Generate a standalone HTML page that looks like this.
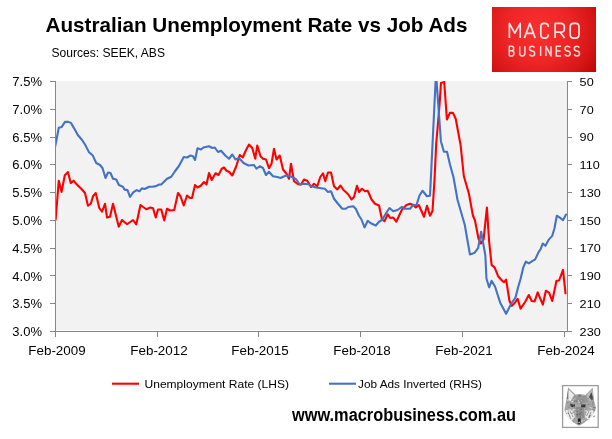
<!DOCTYPE html>
<html><head><meta charset="utf-8"><style>
html,body{margin:0;padding:0;background:#fff;}
body{width:612px;height:439px;overflow:hidden;position:relative;}
svg{position:absolute;left:0;top:0;will-change:transform;}
text{font-family:"Liberation Sans",sans-serif;}
</style></head><body>
<svg width="612" height="439" viewBox="0 0 612 439">
<defs><radialGradient id="lg" gradientUnits="userSpaceOnUse" cx="538" cy="30" r="68">
<stop offset="0" stop-color="#f7302f"/><stop offset="0.45" stop-color="#f02626"/><stop offset="0.8" stop-color="#d81616"/><stop offset="1" stop-color="#c20808"/></radialGradient></defs>
<rect x="492" y="7" width="104" height="65" fill="url(#lg)"/>
<path d="M509.4 38.1 V23.4 L514.8 33.2 L520.2 23.4 V38.1 M524.4 38.1 L529.8 23.4 L535.2 38.1 M526.2 33.4 H533.4 M548.3 27 Q548.3 23.4 545 23.4 H544.1 Q540.8 23.4 540.8 27 V34.5 Q540.8 38.1 544.1 38.1 H545 Q548.3 38.1 548.3 34.5 M555.1 38.1 V23.4 H560.6 Q564.4 23.4 564.4 27.3 V28.4 Q564.4 32.2 560.6 32.2 H555.1 M560.2 32.2 L564.6 38.1 M573.6 23.4 H575.6 Q579 23.4 579 27 V34.5 Q579 38.1 575.6 38.1 H573.6 Q570.2 38.1 570.2 34.5 V27 Q570.2 23.4 573.6 23.4 Z" fill="none" stroke="#fae6e6" stroke-width="1.7" stroke-linejoin="round"/>
<path d="M509.3 55.9 V46.2 H511.9 Q513.7 46.2 513.7 48.5 Q513.7 50.8 511.6 50.8 H509.3 M511.6 50.8 Q513.9 50.8 513.9 53.3 Q513.9 55.9 511.9 55.9 H509.3 M519.7 46.2 V53.2 Q519.7 55.9 522.3 55.9 Q524.9 55.9 524.9 53.2 V46.2 M534.5 47.6 Q533.8 46.2 532.1 46.2 Q529.5 46.2 529.5 48.7 Q529.5 50.7 532.1 51 Q534.7 51.3 534.7 53.4 Q534.7 55.9 532.1 55.9 Q530.1 55.9 529.4 54.4 M540.65 46.2 V55.9 M545.9 55.9 V46.2 L551 55.9 V46.2 M561.1 46.2 H556.3 V55.9 H561.1 M556.3 51 H560.6 M570.0 47.6 Q569.3 46.2 567.6 46.2 Q565.0 46.2 565.0 48.7 Q565.0 50.7 567.6 51 Q570.2 51.3 570.2 53.4 Q570.2 55.9 567.6 55.9 Q565.6 55.9 564.9 54.4 M579.3 47.6 Q578.5999999999999 46.2 576.9 46.2 Q574.3 46.2 574.3 48.7 Q574.3 50.7 576.9 51 Q579.5 51.3 579.5 53.4 Q579.5 55.9 576.9 55.9 Q574.9 55.9 574.1999999999999 54.4 " fill="none" stroke="#f6dada" stroke-width="1.5" stroke-linejoin="round"/>
<rect x="56" y="81" width="511" height="249" fill="#f2f2f2"/>
<path d="M55.5 81 V332.0 M567.5 81 V331.5 M55.0 331.5 H568.0" stroke="#878787" stroke-width="1" fill="none"/>
<path d="M50 81.5 H55.5 M567.5 81.5 H572 M50 109.5 H55.5 M567.5 109.5 H572 M50 137.5 H55.5 M567.5 137.5 H572 M50 164.5 H55.5 M567.5 164.5 H572 M50 192.5 H55.5 M567.5 192.5 H572 M50 220.5 H55.5 M567.5 220.5 H572 M50 248.5 H55.5 M567.5 248.5 H572 M50 275.5 H55.5 M567.5 275.5 H572 M50 303.5 H55.5 M567.5 303.5 H572 M50 331.5 H55.5 M567.5 331.5 H572 M55.5 331.5 V337 M157.5 331.5 V337 M258.5 331.5 V337 M360.5 331.5 V337 M462.5 331.5 V337 M564.5 331.5 V337" stroke="#878787" stroke-width="1" fill="none"/>
<clipPath id="pc"><rect x="56" y="81" width="511" height="250"/></clipPath>
<g clip-path="url(#pc)" fill="none" stroke-linejoin="round" stroke-linecap="round">
<polyline points="55.6,219.8 58.8,180.7 61.6,191.9 64.8,175.2 68,172 70.7,183.1 73.6,180.7 76.3,183.9 81.25,188.75 85,193 88,205.75 90.75,203.75 93,196.25 95.75,193 99.25,208 102,211.75 105,203.75 107,217.5 110,216.75 113,203.75 118.75,226.75 122,220 127,224.25 133,220 136.25,224.5 140.5,205 146.25,209.25 150.5,207.5 153,208.25 155.75,217.5 158,209.5 161.25,209.5 164.25,220.5 167,208.75 170,210.5 174.25,210 178,193 180.5,196.25 183.75,205.5 187,195.5 190,198 192,198 195,185 197.5,187.5 200.75,185.75 204,182 206.5,184.5 209,173 211.75,180 215.5,173.25 218.5,175 221.75,168.75 224,167.5 226.5,170.75 229.25,172 232.25,175.5 236,167 239.75,155 242.75,157.5 246,150 249,144.5 252.25,148 255.25,158.75 257.25,145.5 260.5,156.25 263,158.75 266,159.5 269,168.25 271.5,163.75 274,148.75 276.5,159.5 279.75,155.5 283,169.5 286.5,173.75 289,178.75 291,163.75 294,181.25 298,184.25 301,184.5 304,179.5 307.25,180.75 311,187 314,183.75 317.25,186.25 320.25,177 323,173.25 325.25,181.25 328,172.5 331,172.5 334,186.25 337.25,189.5 340.5,185.5 343.5,190 345.75,192 348.25,194.5 351.5,199.5 354,197 357,185.75 359,192 362,188.75 365,191.25 367.75,190.75 371.5,199.5 375,203.75 379,205.5 382,219.5 384.5,221.25 387.75,214.25 390.25,218 393.25,217.5 396.25,221.75 402,209.5 406.5,205 410,203.75 413.25,205 415.75,207.5 418.75,205 424,216.75 427,205.75 430,215.75 432.5,211 434.5,180 436.2,144 439.6,104 441,83 444.2,82 446.9,119.5 449.9,112.9 453,112.9 455.7,118.7 460.6,145 463.8,176 469,194 472.9,215.5 475,220.5 478.5,238.7 480.9,243.5 483.6,239.4 486.9,207.6 489.1,241 491.6,264.9 494.7,267.6 498.1,276.2 501.9,280.5 503.9,282.2 506.1,279.6 509.5,301 511.8,305.8 514.7,303 517.6,298.9 520.6,308.7 525.4,301.5 528.8,295 531.7,301 534.6,301.5 537.7,292.4 542.8,304.7 545.9,290.7 549.2,292.8 552.2,301 556.5,280.8 559.1,280.5 563,269.9 565.5,293.3" stroke="#ff0000" stroke-width="2.1"/>
<polyline points="55.25,146.3 58.75,127.8 61.75,126.9 65,121.9 68.4,121.9 70.9,122.9 74,128.1 77.8,135 82.1,140 85.3,145 88.8,151.9 92.8,155.6 96.25,163 100,165 102.5,168 105.5,178 108,172.5 110.5,173 113,178.75 116.25,179.5 118.9,185 122.9,186.7 124.6,189.6 127.5,190.1 130,197 133.2,192.4 136.6,190.1 139.5,191.3 141.8,188.4 144.6,189 149.2,186.7 152.6,186.7 156,186.1 159.25,184.5 161.25,184.5 167,178.75 171.25,176.75 175,171.25 178.75,166.25 183.75,157 187,157.5 190.5,155.5 193,156.25 195,160 197.5,148.25 201,149.5 203.5,147.5 209,146.25 212.25,148 214.75,147.5 218,152 221,150.75 225.5,155.75 229,158.75 232.25,154.5 235.5,159.5 239,158 243.5,163 248.5,165.5 254,165 256.5,168.75 259.75,166.25 263,168 266,175 269,171.75 273,176.25 277.25,177 280.5,178 286,175.5 290.5,176.25 296,179.25 299.75,184.5 303.5,183.75 308.5,184.25 311.5,186.25 316,187.5 321,188.25 324.75,188.75 328,192 331,191.25 334,198.75 338,203.75 342.25,208.75 345.75,208.75 348.25,207 353.25,206.25 355.75,208.75 359,215.75 361.5,219.5 364.5,227.5 367.75,220.75 370.75,223.25 375.75,225.5 379,221.75 382,220 386.5,212.5 389.5,208 393.25,211.25 397.5,210 402,206.75 404.5,208.75 410,208.75 413.25,205 416.5,205 419.5,195.5 422.5,190.75 427,196.25 430,195.7 436,73 440.9,141.2 443.9,151.8 447,151.8 450.1,165 453.5,177.3 457.5,199.8 464.8,225 469.9,254.4 473,253.4 474.7,252.7 478.1,248.2 481.1,231.8 485.3,255 486.5,278.8 489.1,287.3 491.6,280.8 495,286.5 500.2,302.7 506.1,313.8 511.3,303.5 515.5,297.6 518.1,287.3 520.6,278.8 523.2,267.7 525.8,261.7 528.8,263.4 532.6,260.9 535.2,259.4 538.6,252.1 540.6,249.2 542.8,243.5 545.4,245.8 548.8,239.6 552.2,235.9 554.5,228.2 556.8,215.7 559.9,217.6 563,220.2 566,214.5" stroke="#4472c4" stroke-width="2.1"/>
</g>
<text x="42" y="86.1" text-anchor="end" font-size="13" fill="#000">7.5%</text>
<text x="42" y="113.9" text-anchor="end" font-size="13" fill="#000">7.0%</text>
<text x="42" y="141.7" text-anchor="end" font-size="13" fill="#000">6.5%</text>
<text x="42" y="169.4" text-anchor="end" font-size="13" fill="#000">6.0%</text>
<text x="42" y="197.2" text-anchor="end" font-size="13" fill="#000">5.5%</text>
<text x="42" y="225.0" text-anchor="end" font-size="13" fill="#000">5.0%</text>
<text x="42" y="252.8" text-anchor="end" font-size="13" fill="#000">4.5%</text>
<text x="42" y="280.5" text-anchor="end" font-size="13" fill="#000">4.0%</text>
<text x="42" y="308.3" text-anchor="end" font-size="13" fill="#000">3.5%</text>
<text x="42" y="336.1" text-anchor="end" font-size="13" fill="#000">3.0%</text>
<text transform="translate(579.6 85.7) scale(1.1 1)" font-size="11.5" fill="#000">50</text>
<text transform="translate(579.6 113.5) scale(1.1 1)" font-size="11.5" fill="#000">70</text>
<text transform="translate(579.6 141.3) scale(1.1 1)" font-size="11.5" fill="#000">90</text>
<text transform="translate(579.6 169.0) scale(1.1 1)" font-size="11.5" fill="#000">110</text>
<text transform="translate(579.6 196.8) scale(1.1 1)" font-size="11.5" fill="#000">130</text>
<text transform="translate(579.6 224.6) scale(1.1 1)" font-size="11.5" fill="#000">150</text>
<text transform="translate(579.6 252.4) scale(1.1 1)" font-size="11.5" fill="#000">170</text>
<text transform="translate(579.6 280.1) scale(1.1 1)" font-size="11.5" fill="#000">190</text>
<text transform="translate(579.6 307.9) scale(1.1 1)" font-size="11.5" fill="#000">210</text>
<text transform="translate(579.6 335.7) scale(1.1 1)" font-size="11.5" fill="#000">230</text>
<text x="57.0" y="354.9" text-anchor="middle" font-size="13.4" fill="#000">Feb-2009</text>
<text x="159.0" y="354.9" text-anchor="middle" font-size="13.4" fill="#000">Feb-2012</text>
<text x="260.0" y="354.9" text-anchor="middle" font-size="13.4" fill="#000">Feb-2015</text>
<text x="362.0" y="354.9" text-anchor="middle" font-size="13.4" fill="#000">Feb-2018</text>
<text x="464.0" y="354.9" text-anchor="middle" font-size="13.4" fill="#000">Feb-2021</text>
<text x="566.0" y="354.9" text-anchor="middle" font-size="13.4" fill="#000">Feb-2024</text>
<path d="M112 383.7 H139" stroke="#ff0000" stroke-width="2.1"/>
<path d="M329 383.7 H356" stroke="#4472c4" stroke-width="2.1"/>
<text x="144.5" y="387.6" font-size="11" fill="#000" textLength="144.5" lengthAdjust="spacingAndGlyphs">Unemployment Rate (LHS)</text>
<text x="358" y="387.6" font-size="11" fill="#000" textLength="124" lengthAdjust="spacingAndGlyphs">Job Ads Inverted (RHS)</text>
<text x="45.5" y="31.8" font-size="20.5" font-weight="bold" fill="#000" textLength="422" lengthAdjust="spacingAndGlyphs">Australian Unemployment Rate vs Job Ads</text>
<text x="51.5" y="56.8" font-size="12" fill="#000" textLength="113.5" lengthAdjust="spacingAndGlyphs">Sources: SEEK, ABS</text>
<text x="292" y="420.8" font-size="18" font-weight="bold" fill="#000" textLength="224" lengthAdjust="spacingAndGlyphs">www.macrobusiness.com.au</text>
<rect x="562.6" y="385.6" width="35.6" height="41.8" fill="#fff" stroke="#9c9c9c" stroke-width="1.3"/>
<g>
<path d="M566.3 399.4 L568.2 387.4 L575.4 394.6 L580 394 L585.5 395.1 L592.7 387.4 L594.1 400.4 L596 408 L595 411 L590.7 417.6 L584 423 L578.8 425.7 L573.5 422.4 L567.7 416.6 L564.4 410 Z" fill="#a6a6a6"/>
<path d="M568.6 389.5 L574 395 L570.5 401 L567.5 400 Z" fill="#ececec"/>
<path d="M568.2 388 L567 399 L568.4 399.5 Z" fill="#6e6e6e"/>
<path d="M592.3 389.5 L586.5 395.5 L590 401 L593.5 400 Z" fill="#bdbdbd"/>
<path d="M591.5 392 L589 397 L592 401 L593.3 399 Z" fill="#4a4a4a"/>
<path d="M574 396 L586 396 L588 402 L580 404 L572 402 Z" fill="#959595"/>
<path d="M570 403.8 L574.8 404.2 L575 407.5 L571 406.8 Z M581 404.5 L585.8 404.5 L585 407.6 L581.2 407.6 Z" fill="#333"/>
<path d="M565.5 410 L572.5 410.5 L575 417 L571 421 L567 416 Z M593.5 410 L587 411 L585 417 L589.5 420.5 L593 415 Z" fill="#ebebeb"/>
<path d="M568 412 L571 419 M570 411 L573 417 M591 412 L588.5 418 M589 411 L586.5 416" stroke="#6a6a6a" stroke-width="0.7"/>
<path d="M576.5 407 L583.5 407 L584 417 L580 419 L576 417 Z" fill="#8a8a8a"/>
<path d="M577.8 418.6 L580.8 418.6 L580.5 424.3 L578.2 424.3 Z" fill="#1c1c1c"/>
<rect x="574.7" y="398.5" width="0.7" height="0.5" fill="#5a5a5a"/><rect x="581.1" y="405.0" width="1.3" height="1.1" fill="#5a5a5a"/><rect x="571.4" y="396.6" width="0.7" height="0.5" fill="#f0f0f0"/><rect x="567.7" y="406.7" width="0.7" height="0.6" fill="#888"/><rect x="571.7" y="412.8" width="1.1" height="0.8" fill="#5a5a5a"/><rect x="576.9" y="423.3" width="1.0" height="0.8" fill="#5a5a5a"/><rect x="569.0" y="406.6" width="0.7" height="0.6" fill="#888"/><rect x="574.3" y="418.5" width="0.7" height="0.5" fill="#707070"/><rect x="582.1" y="399.6" width="1.0" height="0.8" fill="#5a5a5a"/><rect x="571.2" y="414.4" width="1.2" height="1.0" fill="#f0f0f0"/><rect x="579.0" y="421.7" width="0.8" height="0.7" fill="#d8d8d8"/><rect x="588.8" y="415.0" width="0.7" height="0.5" fill="#707070"/><rect x="574.0" y="408.9" width="1.2" height="0.9" fill="#d8d8d8"/><rect x="568.5" y="406.5" width="0.7" height="0.6" fill="#d8d8d8"/><rect x="579.7" y="395.2" width="1.2" height="1.0" fill="#5a5a5a"/><rect x="582.2" y="420.3" width="0.9" height="0.7" fill="#d8d8d8"/><rect x="575.5" y="408.9" width="0.7" height="0.5" fill="#f0f0f0"/><rect x="567.8" y="402.1" width="0.6" height="0.5" fill="#5a5a5a"/><rect x="586.0" y="413.4" width="0.8" height="0.7" fill="#f0f0f0"/><rect x="576.6" y="414.1" width="1.4" height="1.1" fill="#5a5a5a"/><rect x="575.7" y="412.3" width="0.6" height="0.5" fill="#f0f0f0"/><rect x="588.0" y="397.9" width="0.9" height="0.7" fill="#707070"/><rect x="592.5" y="408.9" width="1.0" height="0.8" fill="#707070"/><rect x="581.5" y="420.5" width="1.3" height="1.0" fill="#f0f0f0"/><rect x="573.4" y="406.5" width="1.1" height="0.9" fill="#d8d8d8"/><rect x="576.4" y="400.9" width="0.7" height="0.6" fill="#5a5a5a"/><rect x="572.0" y="401.0" width="1.3" height="1.0" fill="#f0f0f0"/><rect x="570.5" y="402.5" width="0.9" height="0.7" fill="#707070"/><rect x="576.1" y="411.0" width="1.2" height="0.9" fill="#707070"/><rect x="580.5" y="412.5" width="1.0" height="0.8" fill="#5a5a5a"/><rect x="585.4" y="410.8" width="0.9" height="0.7" fill="#f0f0f0"/><rect x="568.1" y="413.0" width="0.8" height="0.6" fill="#5a5a5a"/><rect x="594.5" y="407.2" width="0.9" height="0.7" fill="#5a5a5a"/><rect x="569.5" y="397.0" width="1.1" height="0.9" fill="#d8d8d8"/><rect x="567.1" y="400.2" width="0.7" height="0.6" fill="#f0f0f0"/><rect x="572.6" y="404.4" width="1.0" height="0.8" fill="#d8d8d8"/><rect x="568.5" y="408.6" width="1.0" height="0.8" fill="#f0f0f0"/><rect x="574.4" y="398.3" width="1.2" height="1.0" fill="#d8d8d8"/><rect x="579.4" y="414.8" width="0.6" height="0.5" fill="#888"/><rect x="593.5" y="409.8" width="1.2" height="0.9" fill="#707070"/><rect x="592.4" y="416.7" width="1.4" height="1.1" fill="#d8d8d8"/><rect x="590.9" y="414.9" width="1.0" height="0.8" fill="#d8d8d8"/><rect x="592.2" y="404.7" width="1.0" height="0.8" fill="#707070"/><rect x="588.4" y="403.9" width="1.1" height="0.9" fill="#707070"/><rect x="588.7" y="416.7" width="1.2" height="1.0" fill="#707070"/><rect x="589.5" y="416.2" width="0.8" height="0.6" fill="#707070"/><rect x="579.8" y="415.9" width="1.2" height="1.0" fill="#5a5a5a"/><rect x="579.2" y="399.8" width="1.4" height="1.1" fill="#888"/><rect x="578.4" y="422.1" width="1.4" height="1.1" fill="#d8d8d8"/><rect x="575.9" y="400.6" width="1.0" height="0.8" fill="#707070"/><rect x="575.1" y="408.5" width="1.3" height="1.0" fill="#888"/><rect x="579.4" y="413.6" width="1.3" height="1.0" fill="#5a5a5a"/><rect x="568.6" y="405.7" width="1.0" height="0.8" fill="#707070"/><rect x="570.4" y="417.7" width="0.7" height="0.5" fill="#d8d8d8"/><rect x="593.4" y="415.7" width="0.9" height="0.7" fill="#f0f0f0"/><rect x="593.4" y="415.7" width="1.4" height="1.1" fill="#707070"/><rect x="565.8" y="411.7" width="1.2" height="1.0" fill="#f0f0f0"/><rect x="569.4" y="418.8" width="1.1" height="0.9" fill="#f0f0f0"/><rect x="575.5" y="410.5" width="0.6" height="0.5" fill="#707070"/><rect x="589.0" y="415.8" width="1.0" height="0.8" fill="#5a5a5a"/><rect x="593.0" y="407.0" width="1.3" height="1.0" fill="#707070"/><rect x="571.3" y="401.6" width="1.0" height="0.8" fill="#d8d8d8"/><rect x="587.9" y="403.8" width="0.9" height="0.7" fill="#888"/><rect x="575.6" y="407.7" width="1.3" height="1.0" fill="#888"/><rect x="580.5" y="418.8" width="0.7" height="0.6" fill="#888"/><rect x="569.6" y="409.3" width="1.2" height="1.0" fill="#f0f0f0"/><rect x="583.3" y="417.3" width="0.7" height="0.6" fill="#707070"/><rect x="579.2" y="415.8" width="0.6" height="0.5" fill="#888"/><rect x="585.5" y="409.9" width="1.2" height="1.0" fill="#f0f0f0"/><rect x="568.2" y="410.8" width="0.8" height="0.6" fill="#707070"/><rect x="578.6" y="394.8" width="1.0" height="0.8" fill="#5a5a5a"/><rect x="583.4" y="409.2" width="0.8" height="0.6" fill="#888"/><rect x="573.3" y="409.2" width="1.0" height="0.8" fill="#f0f0f0"/><rect x="572.4" y="409.7" width="1.3" height="1.1" fill="#d8d8d8"/><rect x="591.8" y="400.1" width="0.7" height="0.6" fill="#f0f0f0"/><rect x="568.6" y="407.3" width="1.1" height="0.9" fill="#5a5a5a"/><rect x="577.9" y="400.4" width="1.2" height="1.0" fill="#d8d8d8"/><rect x="591.9" y="398.6" width="0.7" height="0.6" fill="#d8d8d8"/><rect x="576.9" y="408.6" width="0.7" height="0.6" fill="#707070"/><rect x="577.9" y="409.5" width="0.9" height="0.7" fill="#d8d8d8"/><rect x="575.7" y="396.8" width="0.6" height="0.5" fill="#d8d8d8"/><rect x="581.6" y="407.2" width="0.9" height="0.7" fill="#5a5a5a"/><rect x="580.5" y="402.9" width="0.7" height="0.6" fill="#5a5a5a"/><rect x="592.6" y="400.9" width="0.7" height="0.5" fill="#5a5a5a"/><rect x="573.2" y="421.2" width="0.8" height="0.7" fill="#707070"/><rect x="568.9" y="406.7" width="0.9" height="0.7" fill="#d8d8d8"/><rect x="581.1" y="409.4" width="1.2" height="0.9" fill="#f0f0f0"/><rect x="585.6" y="406.8" width="0.8" height="0.7" fill="#5a5a5a"/><rect x="572.8" y="412.2" width="0.7" height="0.5" fill="#707070"/><rect x="590.9" y="407.6" width="1.4" height="1.1" fill="#d8d8d8"/><rect x="577.5" y="421.5" width="0.7" height="0.6" fill="#888"/><rect x="580.8" y="401.2" width="1.4" height="1.1" fill="#5a5a5a"/><rect x="572.9" y="399.4" width="1.1" height="0.9" fill="#d8d8d8"/><rect x="580.9" y="400.2" width="1.0" height="0.8" fill="#f0f0f0"/><rect x="570.3" y="404.4" width="1.4" height="1.1" fill="#5a5a5a"/><rect x="580.2" y="423.3" width="1.0" height="0.8" fill="#888"/><rect x="589.6" y="407.0" width="1.0" height="0.8" fill="#f0f0f0"/><rect x="574.2" y="400.5" width="0.9" height="0.7" fill="#707070"/><rect x="590.0" y="415.2" width="0.9" height="0.7" fill="#707070"/><rect x="575.4" y="395.6" width="0.6" height="0.5" fill="#707070"/><rect x="583.8" y="420.4" width="0.7" height="0.6" fill="#f0f0f0"/><rect x="591.1" y="414.1" width="1.1" height="0.9" fill="#d8d8d8"/><rect x="585.8" y="395.4" width="0.7" height="0.6" fill="#707070"/><rect x="578.4" y="401.9" width="1.4" height="1.1" fill="#d8d8d8"/><rect x="581.4" y="401.3" width="0.8" height="0.6" fill="#d8d8d8"/><rect x="570.5" y="404.1" width="1.0" height="0.8" fill="#5a5a5a"/><rect x="580.1" y="400.0" width="1.2" height="1.0" fill="#888"/><rect x="569.3" y="411.6" width="0.6" height="0.5" fill="#f0f0f0"/><rect x="574.1" y="401.0" width="1.4" height="1.1" fill="#888"/><rect x="590.6" y="398.7" width="0.9" height="0.7" fill="#888"/><rect x="569.5" y="415.7" width="0.6" height="0.5" fill="#707070"/><rect x="583.8" y="416.0" width="0.7" height="0.6" fill="#888"/><rect x="580.7" y="409.1" width="1.3" height="1.0" fill="#5a5a5a"/><rect x="582.5" y="420.8" width="0.7" height="0.5" fill="#707070"/><rect x="566.3" y="413.1" width="0.9" height="0.7" fill="#5a5a5a"/><rect x="578.5" y="395.5" width="1.1" height="0.9" fill="#5a5a5a"/><rect x="585.4" y="408.7" width="1.0" height="0.8" fill="#5a5a5a"/><rect x="580.8" y="416.4" width="0.8" height="0.6" fill="#f0f0f0"/><rect x="567.2" y="402.0" width="0.8" height="0.6" fill="#707070"/><rect x="584.5" y="407.8" width="0.7" height="0.5" fill="#f0f0f0"/><rect x="592.3" y="402.6" width="1.1" height="0.9" fill="#5a5a5a"/>
</g>
</svg>
</body></html>
